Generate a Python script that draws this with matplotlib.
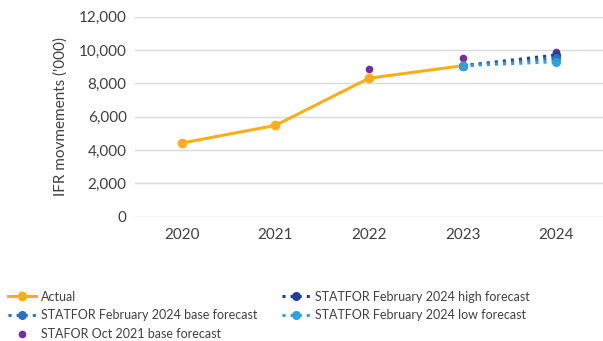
import matplotlib.pyplot as plt
import numpy as np

plt.rcParams['font.family'] = ['Lato', 'DejaVu Sans']

years = ['2020', '2021', '2022', '2023', '2024']
actual = [4420, 5480, 8310, 9060, np.nan]
base = [np.nan, np.nan, np.nan, 9060, 9500]
high = [np.nan, np.nan, np.nan, 9060, 9700]
low = [np.nan, np.nan, np.nan, 9060, 9300]
oct2021 = [np.nan, np.nan, 8850, 9500, 9900]

x = np.arange(len(years))

fig = plt.figure(figsize=(6.03, 3.41), dpi=100)
ax = fig.add_axes([135 / 603, 1 - 216.7 / 341, 468 / 603, (216.7 - 16.7) / 341])

ax.plot(x, oct2021, linestyle='none', marker='o', markersize=4.5, color='#7030A0',
        label='STAFOR Oct 2021 base forecast', zorder=3)
ax.plot(x, actual, color='#FFAE1A', linewidth=2.2, marker='o', markersize=6,
        label='Actual', zorder=4)
ax.plot(x, high, color='#1F3F99', linestyle=':', linewidth=2.2, marker='o', markersize=5.5,
        label='STATFOR February 2024 high forecast', zorder=5)
ax.plot(x, base, color='#2672C4', linestyle=':', linewidth=2.2, marker='o', markersize=5.5,
        label='STATFOR February 2024 base forecast', zorder=5)
ax.plot(x, low, color='#2BA3DF', linestyle=':', linewidth=2.2, marker='o', markersize=5.5,
        label='STATFOR February 2024 low forecast', zorder=5)

ax.set_xlim(-0.5, 4.5)
ax.set_ylim(0, 12000)
ax.set_yticks(np.arange(0, 12001, 2000))
ax.set_yticklabels([f'{v:,}' for v in range(0, 12001, 2000)])
ax.set_xticks(x)
ax.set_xticklabels(years)
ax.tick_params(length=0, labelsize=11, colors='#404040', pad=8)
ax.tick_params(axis='y', pad=6)
ax.grid(axis='y', color='#D9D9D9', linewidth=1)
ax.set_axisbelow(True)
for s in ax.spines.values():
    s.set_visible(False)
ax.set_ylabel("IFR movmements ('000)", fontsize=11, color='#404040', labelpad=8)

h, l = ax.get_legend_handles_labels()
order = [1, 3, 0, 2, 4]
fig.legend([h[i] for i in order], [l[i] for i in order], ncol=2,
           loc='upper left', bbox_to_anchor=(0.0, 0.17), frameon=False,
           fontsize=9, handlelength=2.3, handletextpad=0.35, columnspacing=2.0,
           labelspacing=0.55, borderaxespad=0.2, labelcolor='#404040')

fig.savefig('out.png', dpi=100)
